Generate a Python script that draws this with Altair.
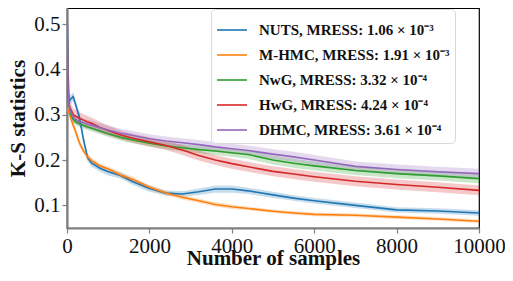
import altair as alt
import pandas as pd

samples = [0, 25, 50, 100, 150, 200, 300, 400, 500, 600, 800, 1000, 1300, 1600,
           2000, 2400, 2800, 3200, 3600, 4000, 4400, 5000, 5500, 6000, 7000, 8000, 9000, 10000]

methods = ["NUTS", "M-HMC", "NwG", "HwG", "DHMC"]
mress = ["1.06 × 10⁻³", "1.91 × 10⁻³", "3.32 × 10⁻⁴", "4.24 × 10⁻⁴", "3.61 × 10⁻⁴"]
colors = ["#1f77b4", "#ff7f0e", "#2ca02c", "#d62728", "#9467bd"]

nuts = [0.55, 0.40, 0.33, 0.335, 0.34, 0.325, 0.295, 0.245, 0.205, 0.193, 0.182, 0.174, 0.166, 0.152,
        0.137, 0.127, 0.125, 0.130, 0.136, 0.136, 0.132, 0.123, 0.116, 0.110, 0.100, 0.090, 0.0875, 0.083]
mhmc = [0.315, 0.31, 0.305, 0.29, 0.277, 0.265, 0.238, 0.22, 0.207, 0.198, 0.187, 0.18, 0.167, 0.157,
        0.140, 0.127, 0.118, 0.110, 0.102, 0.097, 0.093, 0.087, 0.083, 0.080, 0.078, 0.074, 0.070, 0.065]
nwg = [0.52, 0.36, 0.32, 0.30, 0.29, 0.285, 0.28, 0.276, 0.273, 0.27, 0.264, 0.258, 0.25, 0.244,
       0.237, 0.231, 0.227, 0.223, 0.220, 0.216, 0.212, 0.200, 0.193, 0.187, 0.177, 0.170, 0.165, 0.159]
hwg = [0.50, 0.35, 0.32, 0.31, 0.30, 0.297, 0.292, 0.288, 0.284, 0.281, 0.272, 0.265, 0.255, 0.248,
       0.240, 0.232, 0.222, 0.210, 0.200, 0.192, 0.185, 0.175, 0.169, 0.163, 0.153, 0.146, 0.140, 0.133]
dhmc = [0.56, 0.36, 0.32, 0.305, 0.295, 0.29, 0.285, 0.282, 0.279, 0.277, 0.271, 0.266, 0.259, 0.254,
        0.247, 0.242, 0.238, 0.234, 0.229, 0.225, 0.221, 0.213, 0.207, 0.200, 0.186, 0.179, 0.174, 0.170]

# half-widths of the shaded bands
nuts_hw = [0.01, 0.01, 0.01, 0.01, 0.01, 0.01, 0.01, 0.01, 0.009, 0.008, 0.008, 0.008, 0.007, 0.007,
           0.007, 0.006, 0.006, 0.007, 0.008, 0.008, 0.007, 0.007, 0.006, 0.006, 0.006, 0.006, 0.006, 0.006]
mhmc_hw = [0.008, 0.008, 0.008, 0.008, 0.008, 0.008, 0.008, 0.007, 0.007, 0.007, 0.006, 0.006, 0.006, 0.006,
           0.005, 0.005, 0.005, 0.005, 0.005, 0.005, 0.004, 0.004, 0.004, 0.004, 0.004, 0.004, 0.004, 0.004]
nwg_hw = [0.01, 0.01, 0.01, 0.008, 0.008, 0.007, 0.007, 0.007, 0.007, 0.007, 0.007, 0.007, 0.007, 0.007,
          0.007, 0.007, 0.008, 0.008, 0.009, 0.009, 0.01, 0.01, 0.01, 0.01, 0.01, 0.01, 0.01, 0.01]
hwg_hw = [0.015, 0.015, 0.015, 0.015, 0.014, 0.014, 0.014, 0.013, 0.013, 0.013, 0.012, 0.011, 0.01, 0.01,
          0.01, 0.01, 0.011, 0.011, 0.011, 0.011, 0.011, 0.011, 0.011, 0.011, 0.011, 0.011, 0.011, 0.011]
dhmc_hw = [0.01, 0.01, 0.01, 0.01, 0.01, 0.01, 0.01, 0.01, 0.01, 0.01, 0.01, 0.01, 0.01, 0.01,
           0.01, 0.01, 0.01, 0.01, 0.011, 0.011, 0.011, 0.011, 0.011, 0.011, 0.011, 0.011, 0.011, 0.011]

series = [nuts, mhmc, nwg, hwg, dhmc]
bands = [nuts_hw, mhmc_hw, nwg_hw, hwg_hw, dhmc_hw]
labels = [f"{m}, MRESS: {r}" for m, r in zip(methods, mress)]

rows = []
for lab, vals, hws in zip(labels, series, bands):
    for s, v, h in zip(samples, vals, hws):
        rows.append({"samples": s, "label": lab, "band": lab, "ks": v, "lo": v - h, "hi": v + h})
df = pd.DataFrame(rows)

FONT = "Liberation Serif"

xenc = alt.X(
    "samples:Q",
    scale=alt.Scale(domain=[0, 10000], nice=False),
    axis=alt.Axis(values=[0, 2000, 4000, 6000, 8000, 10000], format="d",
                  title="Number of samples", labelFlush=False, labelOverlap=False),
)
yscale = alt.Scale(domain=[0.05, 0.5354], nice=False, zero=False)

band = alt.Chart(df).mark_area(opacity=0.25, clip=True).encode(
    x=xenc,
    y=alt.Y("lo:Q", scale=yscale),
    y2="hi:Q",
    # reversed order so this (legend-less) scale is not merged with the stroke legend
    fill=alt.Fill("band:N", scale=alt.Scale(domain=labels[::-1], range=colors[::-1]), legend=None),
)

line = alt.Chart(df).mark_line(strokeWidth=1.6, clip=True).encode(
    x=xenc,
    y=alt.Y("ks:Q", scale=yscale,
            axis=alt.Axis(values=[0.1, 0.2, 0.3, 0.4, 0.5], format=".1f", title="K-S statistics")),
    stroke=alt.Stroke(
        "label:N",
        scale=alt.Scale(domain=labels, range=colors),
        legend=alt.Legend(title=None, orient="none", legendX=144, legendY=1,
                          symbolType="stroke", symbolSize=900, symbolStrokeWidth=1.6,
                          padding=5, labelOffset=11, rowPadding=1,
                          fillColor="rgba(255,255,255,0.8)", strokeColor="#d9d9d9",
                          cornerRadius=4, labelFont=FONT, labelFontSize=15,
                          labelFontWeight="bold", labelColor="#111", labelLimit=400),
    ),
)

chart = alt.layer(band, line).properties(
    width=412, height=220,
    autosize=alt.AutoSizeParams(type="none"),
    padding={"left": 59, "top": 0, "right": 26, "bottom": 45},
).configure_view(
    stroke="black", strokeWidth=1.2
).configure_axis(
    grid=False, domainColor="#808080", domainWidth=2.2, tickColor="#808080",
    tickSize=5, tickWidth=1.2, labelFont=FONT, labelFontSize=21, labelColor="#111",
    titleFont=FONT, titleFontSize=21, titleFontWeight="bold", titleColor="#111",
    labelPadding=2,
).configure_axisX(titlePadding=-9).configure_axisY(titlePadding=5)

chart.save("out.html", embed_options={"renderer": "svg", "actions": False})
